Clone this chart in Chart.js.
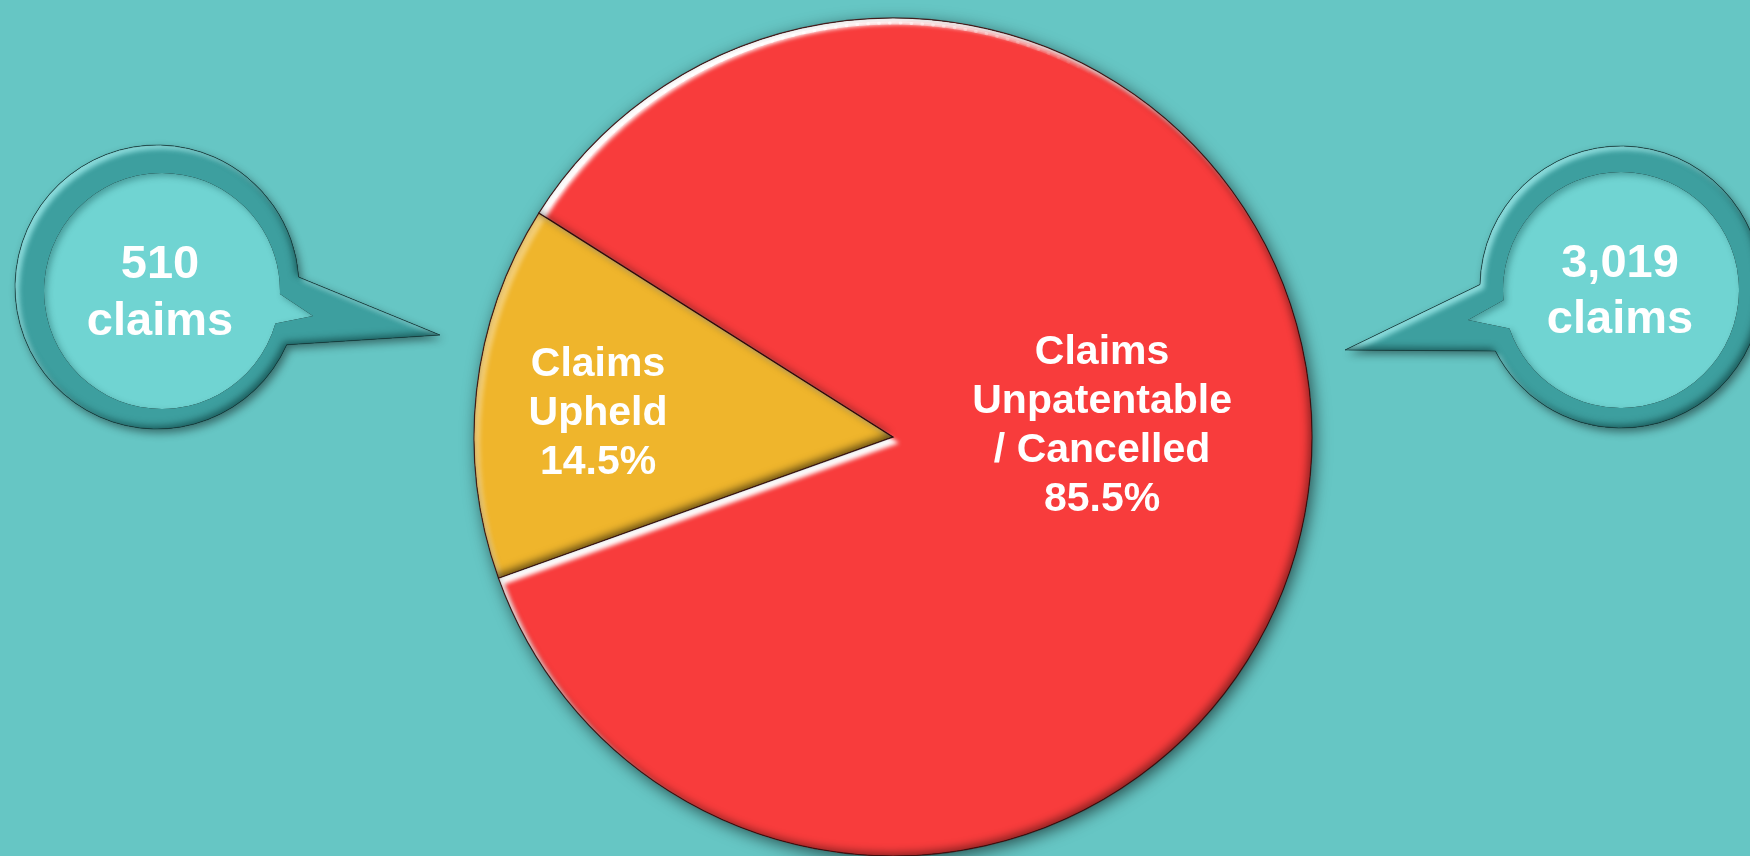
<!DOCTYPE html>
<html><head><meta charset="utf-8">
<style>
html,body{margin:0;padding:0;background:#66C6C4;overflow:hidden;}
canvas{display:block;}
</style>
<script src="https://cdn.jsdelivr.net/npm/chart.js@4.4.1/dist/chart.umd.min.js"></script>
</head><body>
<canvas id="c" width="1750" height="856"></canvas>
<script>
// ---- data ----
const categories = ['Claims Upheld', 'Claims Unpatentable / Cancelled'];
const claimCounts = [510, 3019];
const sliceNames = [['Claims', 'Upheld'], ['Claims', 'Unpatentable', '/ Cancelled']];
const sliceColors = ['#EFB52C', '#F83C3C'];
const calloutUnit = 'claims';

const total = claimCounts.reduce((a, b) => a + b, 0);
const pctText = claimCounts.map(v => (v / total * 100).toFixed(1) + '%');
const countText = claimCounts.map(v => v.toLocaleString('en-US'));

const BG = '#66C6C4';
const FONT = '"Liberation Sans", Arial, Helvetica, sans-serif';
const D = Math.PI / 180;

function innerShadow(ctx, pathFn, color, blur, ox, oy) {
  ctx.save();
  ctx.beginPath(); pathFn(ctx); ctx.clip();
  ctx.beginPath();
  ctx.rect(-4000, -4000, 10000, 10000);
  pathFn(ctx);
  ctx.shadowColor = color; ctx.shadowBlur = blur;
  ctx.shadowOffsetX = ox; ctx.shadowOffsetY = oy;
  ctx.fillStyle = '#000';
  ctx.fill('evenodd');
  ctx.restore();
}

const bgPlugin = {
  id: 'bg',
  beforeDraw(chart) {
    const ctx = chart.ctx;
    ctx.save(); ctx.fillStyle = BG; ctx.fillRect(0, 0, chart.width, chart.height); ctx.restore();
  }
};

const pieFx = {
  id: 'pieFx',
  beforeDatasetsDraw(chart) {
    const arc = chart.getDatasetMeta(0).data[0];
    if (!arc) return;
    const ctx = chart.ctx;
    ctx.save();
    ctx.beginPath();
    ctx.arc(arc.x, arc.y, arc.outerRadius, 0, Math.PI * 2);
    ctx.shadowColor = 'rgba(0,0,0,0.6)'; ctx.shadowBlur = 16;
    ctx.shadowOffsetX = 3; ctx.shadowOffsetY = 4;
    ctx.fillStyle = '#F83C3C';
    ctx.fill();
    ctx.restore();
  },
  afterDatasetsDraw(chart, args, opts) {
    const ctx = chart.ctx;
    const meta = chart.getDatasetMeta(0);
    meta.data.forEach((arc, i) => {
      const p = arc.getProps(['x', 'y', 'startAngle', 'endAngle', 'outerRadius'], true);
      const path = c => { c.moveTo(p.x, p.y); c.arc(p.x, p.y, p.outerRadius, p.startAngle, p.endAngle); c.closePath(); };
      const fx = opts.bevel[i];
      innerShadow(ctx, path, 'rgba(255,255,255,' + fx.light + ')', 4, 6, 6);
      innerShadow(ctx, path, 'rgba(0,0,0,' + fx.dark + ')', 8, -3, -3);
      ctx.save();
      ctx.beginPath(); path(ctx);
      ctx.strokeStyle = 'rgba(50,10,10,0.75)'; ctx.lineWidth = 1.2;
      ctx.stroke();
      ctx.restore();
    });
    // rim highlight (upper-left glint)
    const a0 = meta.data[0];
    if (a0) {
      const R = a0.outerRadius - 5;
      ctx.save();
      ctx.lineCap = 'round';
      ctx.lineWidth = 3;
      for (let a = 214; a < 300; a += 1.5) {
        const t = Math.max(0, 1 - Math.abs(a - 247) / 52);
        ctx.strokeStyle = 'rgba(255,255,255,' + (0.85 * t) + ')';
        ctx.beginPath();
        ctx.arc(a0.x, a0.y, R, a * D, (a + 1.6) * D);
        ctx.stroke();
      }
      ctx.restore();
    }
    // labels
    meta.data.forEach((arc, i) => {
      const r = arc.outerRadius;
      const pos = opts.labelPos[i];
      const cx = arc.x + pos[0] * r, cy = arc.y + pos[1] * r;
      const lines = sliceNames[i].concat([pctText[i]]);
      const fs = opts.fontSize, lh = opts.lineHeight;
      ctx.save();
      ctx.font = 'bold ' + fs + 'px ' + FONT;
      ctx.fillStyle = '#FFFFFF';
      ctx.textAlign = 'center';
      ctx.textBaseline = 'alphabetic';
      lines.forEach((t, k) => {
        const by = cy + (k - (lines.length - 1) / 2) * lh + fs * 0.716 / 2;
        ctx.fillText(t, cx, by);
      });
      ctx.restore();
    });
  }
};

const callouts = {
  id: 'callouts',
  afterDraw(chart, args, opts) {
    const ctx = chart.ctx;
    opts.bubbles.forEach((b, i) => {
      const outer = c => {
        c.moveTo(b.cx + b.R * Math.cos(b.a0 * D), b.cy + b.R * Math.sin(b.a0 * D));
        c.arc(b.cx, b.cy, b.R, b.a0 * D, b.a1 * D);
        c.lineTo(b.tip[0], b.tip[1]); c.closePath();
      };
      const inner = c => {
        c.moveTo(b.icx + b.r * Math.cos(b.i0 * D), b.icy + b.r * Math.sin(b.i0 * D));
        c.arc(b.icx, b.icy, b.r, b.i0 * D, b.i1 * D);
        c.lineTo(b.itip[0], b.itip[1]); c.closePath();
      };
      // ring with drop shadow
      ctx.save();
      ctx.beginPath(); outer(ctx);
      ctx.shadowColor = 'rgba(0,0,0,0.45)'; ctx.shadowBlur = 9;
      ctx.shadowOffsetX = 3; ctx.shadowOffsetY = 4;
      ctx.fillStyle = '#3D9F9F';
      ctx.fill();
      ctx.restore();
      innerShadow(ctx, outer, 'rgba(170,245,245,0.75)', 5, 4, 4);
      innerShadow(ctx, outer, 'rgba(0,40,40,0.55)', 7, -3, -3);
      ctx.save();
      ctx.beginPath(); outer(ctx);
      ctx.strokeStyle = 'rgba(20,60,60,0.6)'; ctx.lineWidth = 1;
      ctx.stroke();
      ctx.restore();
      // inner light disc
      ctx.save();
      ctx.beginPath(); inner(ctx);
      ctx.fillStyle = '#70D4D2';
      ctx.fill();
      ctx.restore();
      innerShadow(ctx, inner, 'rgba(0,60,60,0.35)', 6, 3, 3);
      // text
      ctx.save();
      ctx.font = 'bold ' + opts.fontSize + 'px ' + FONT;
      ctx.fillStyle = '#FFFFFF';
      ctx.textAlign = 'center';
      ctx.textBaseline = 'alphabetic';
      ctx.fillText(countText[i], b.tx, b.ty[0]);
      ctx.fillText(calloutUnit, b.tx, b.ty[1]);
      ctx.restore();
    });
  }
};

new Chart(document.getElementById('c').getContext('2d'), {
  type: 'pie',
  data: {
    labels: categories,
    datasets: [{
      data: claimCounts,
      backgroundColor: sliceColors,
      borderWidth: 0,
      radius: 419,
      rotation: 250.3
    }]
  },
  options: {
    responsive: false,
    animation: false,
    rotation: 250.3,
    events: [],
    layout: { padding: { left: 474, right: 438, top: 18, bottom: 0 } },
    plugins: {
      legend: { display: false },
      tooltip: { enabled: false },
      pieFx: {
        bevel: [{ light: 0.35, dark: 0.6 }, { light: 1, dark: 0.45 }],
        labelPos: [[-0.704, -0.064], [0.499, -0.033]],
        fontSize: 41,
        lineHeight: 49
      },
      callouts: {
        fontSize: 47,
        bubbles: [
          { cx: 157, cy: 287, R: 142, a0: 24, a1: 356, tip: [440, 335],
            icx: 162, icy: 291, r: 118, i0: 16, i1: 361.5, itip: [313, 316],
            tx: 160, ty: [278, 335] },
          { cx: 1621, cy: 287, R: 141, a0: 181, a1: 513, tip: [1345, 350],
            icx: 1621, icy: 290, r: 118, i0: 175, i1: 521, itip: [1468, 320],
            tx: 1620, ty: [277, 333] }
        ]
      }
    }
  },
  plugins: [bgPlugin, pieFx, callouts]
});
</script>
</body></html>
